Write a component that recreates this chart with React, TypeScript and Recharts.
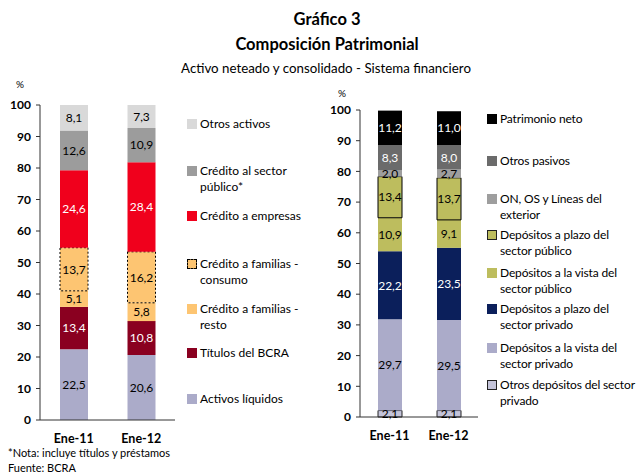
import React from "react";
import { BarChart, Bar, XAxis, YAxis, LabelList } from "recharts";

const categories = ["Ene-11", "Ene-12"];
const yTicks = [0, 10, 20, 30, 40, 50, 60, 70, 80, 90, 100];

// Activo (left)
const activosLiquidos = [22.5, 20.6];
const titulosBCRA = [13.4, 10.8];
const familiasResto = [5.1, 5.8];
const familiasConsumo = [13.7, 16.2];
const creditoEmpresas = [24.6, 28.4];
const creditoPublico = [12.6, 10.9];
const otrosActivos = [8.1, 7.3];

// Pasivo + PN (right)
const otrosDepPriv = [2.1, 2.1];
const vistaPriv = [29.7, 29.5];
const plazoPriv = [22.2, 23.5];
const vistaPub = [10.9, 9.1];
const plazoPub = [13.4, 13.7];
const onOs = [2.0, 2.7];
const otrosPasivos = [8.3, 8.0];
const patrimonioNeto = [11.2, 11.0];

const FONT = "Lato, 'Open Sans', sans-serif";

const leftData = categories.map((c, i) => ({
  name: c,
  liq: activosLiquidos[i],
  bcra: titulosBCRA[i],
  resto: familiasResto[i],
  consumo: familiasConsumo[i],
  emp: creditoEmpresas[i],
  pub: creditoPublico[i],
  otros: otrosActivos[i],
}));

const rightData = categories.map((c, i) => ({
  name: c,
  odp: otrosDepPriv[i],
  vpr: vistaPriv[i],
  ppr: plazoPriv[i],
  vpu: vistaPub[i],
  ppu: plazoPub[i],
  on: onOs[i],
  op: otrosPasivos[i],
  pn: patrimonioNeto[i],
}));

const fmt = (v: any) => Number(v).toFixed(1).replace(".", ",");

type S = { key: string; color: string; text: string; stroke?: string; dash?: string };

const leftSeries: S[] = [
  { key: "liq", color: "#ABABC9", text: "#000" },
  { key: "bcra", color: "#8A0020", text: "#fff" },
  { key: "resto", color: "#FDC572", text: "#000" },
  { key: "consumo", color: "#FDC572", text: "#000", stroke: "#000", dash: "2 2" },
  { key: "emp", color: "#F0001C", text: "#fff" },
  { key: "pub", color: "#9C9C9C", text: "#000" },
  { key: "otros", color: "#D9D9D9", text: "#000" },
];

const rightSeries: S[] = [
  { key: "odp", color: "#C4C4DA", text: "#000", stroke: "#222" },
  { key: "vpr", color: "#ABABC9", text: "#000" },
  { key: "ppr", color: "#0B1F5B", text: "#fff" },
  { key: "vpu", color: "#BDBD5E", text: "#000" },
  { key: "ppu", color: "#BDBD5E", text: "#000", stroke: "#000" },
  { key: "on", color: "#9E9E9E", text: "#000" },
  { key: "op", color: "#6B6B6B", text: "#fff" },
  { key: "pn", color: "#000000", text: "#fff" },
];

const tickStyle = { fontSize: 12, fontWeight: 700, fill: "#000", fontFamily: FONT };

function renderBars(series: S[], size: number) {
  return series.map((s) => (
    <Bar
      key={s.key}
      dataKey={s.key}
      stackId="a"
      fill={s.color}
      stroke={s.stroke || "none"}
      strokeWidth={s.stroke ? 1 : 0}
      strokeDasharray={s.dash}
      barSize={size}
      isAnimationActive={false}
    >
      <LabelList
        dataKey={s.key}
        position="center"
        formatter={fmt}
        style={{ fill: s.text, fontSize: 12, fontFamily: FONT }}
      />
    </Bar>
  ));
}

type LegendItem = { label: string[]; color: string; y: number; border?: string; dash?: boolean };

const leftLegend: LegendItem[] = [
  { label: ["Otros activos"], color: "#D9D9D9", y: 124 },
  { label: ["Crédito al sector", "público*"], color: "#9C9C9C", y: 171 },
  { label: ["Crédito a empresas"], color: "#F0001C", y: 216 },
  { label: ["Crédito a familias -", "consumo"], color: "#FDC572", y: 264, border: "#000", dash: true },
  { label: ["Crédito a familias -", "resto"], color: "#FDC572", y: 309 },
  { label: ["Títulos del BCRA"], color: "#8A0020", y: 353 },
  { label: ["Activos líquidos"], color: "#ABABC9", y: 399 },
];

const rightLegend: LegendItem[] = [
  { label: ["Patrimonio neto"], color: "#000000", y: 119 },
  { label: ["Otros pasivos"], color: "#6B6B6B", y: 161 },
  { label: ["ON, OS y Líneas del", "exterior"], color: "#9E9E9E", y: 199 },
  { label: ["Depósitos a plazo del", "sector público"], color: "#BDBD5E", y: 235, border: "#222" },
  { label: ["Depósitos a la vista del", "sector público"], color: "#BDBD5E", y: 273 },
  { label: ["Depósitos a plazo del", "sector privado"], color: "#0B1F5B", y: 309 },
  { label: ["Depósitos a la vista del", "sector privado"], color: "#ABABC9", y: 348 },
  { label: ["Otros depósitos del sector", "privado"], color: "#C4C4DA", y: 385, border: "#222" },
];

function Legend({ items, x, spacing }: { items: LegendItem[]; x: number; spacing?: number }) {
  return (
    <>
      {items.map((it, i) => (
        <div key={i} style={{ position: "absolute", left: x, top: it.y - 8, fontFamily: FONT, fontSize: 12, lineHeight: "15.5px", color: "#000", whiteSpace: "nowrap", letterSpacing: spacing || 0 }}>
          <div
            style={{
              position: "absolute",
              left: 0,
              top: 3,
              width: 10,
              height: 10,
              boxSizing: "border-box",
              background: it.color,
              border: it.border ? `1px ${it.dash ? "dashed" : "solid"} ${it.border}` : "none",
            }}
          />
          <div style={{ marginLeft: 13 }}>
            {it.label.map((l, j) => (
              <div key={j}>{l}</div>
            ))}
          </div>
        </div>
      ))}
    </>
  );
}

export default function App() {
  return (
    <div style={{ position: "absolute", left: 0, top: 0, width: 640, height: 475, background: "#fff", fontFamily: FONT, overflow: "hidden" }}>
      <div style={{ position: "absolute", left: 0, width: 654, top: 9, textAlign: "center", fontWeight: 700, fontSize: 16.5 }}>Gráfico 3</div>
      <div style={{ position: "absolute", left: 0, width: 654, top: 34, textAlign: "center", fontWeight: 700, fontSize: 16.5 }}>Composición Patrimonial</div>
      <div style={{ position: "absolute", left: 0, width: 652, top: 60, textAlign: "center", fontSize: 13.3 }}>Activo neteado y consolidado - Sistema financiero</div>
      <div style={{ position: "absolute", left: 16, top: 78, fontSize: 10 }}>%</div>
      <div style={{ position: "absolute", left: 338, top: 87, fontSize: 10 }}>%</div>

      <div style={{ position: "absolute", left: 0, top: 95 }}>
        <BarChart width={180} height={355} data={leftData} margin={{ top: 10, right: 5, bottom: 0, left: 0 }}>
          <XAxis dataKey="name" tickLine={false} axisLine={{ stroke: "#333" }} tick={{ ...tickStyle, fontSize: 12.5 }} tickMargin={8} height={30} />
          <YAxis domain={[0, 100]} ticks={yTicks} interval={0} width={40} tick={tickStyle} tickLine={{ stroke: "#333" }} axisLine={{ stroke: "#333" }} tickSize={4} tickMargin={5} />
          {renderBars(leftSeries, 28)}
        </BarChart>
      </div>

      <div style={{ position: "absolute", left: 320, top: 100 }}>
        <BarChart width={163} height={347} data={rightData} margin={{ top: 10, right: 5, bottom: 0, left: 0 }}>
          <XAxis dataKey="name" tickLine={false} axisLine={{ stroke: "#333" }} tick={{ ...tickStyle, fontSize: 12.5 }} tickMargin={8} height={30} />
          <YAxis domain={[0, 100]} ticks={yTicks} interval={0} width={40} tick={tickStyle} tickLine={{ stroke: "#333" }} axisLine={{ stroke: "#333" }} tickSize={4} tickMargin={5} />
          {renderBars(rightSeries, 24)}
        </BarChart>
      </div>

      <Legend items={leftLegend} x={187} />
      <Legend items={rightLegend} x={487} spacing={-0.15} />

      <div style={{ position: "absolute", left: 8, top: 446, fontSize: 11 }}>*Nota: incluye títulos y préstamos</div>
      <div style={{ position: "absolute", left: 8, top: 461, fontSize: 11 }}>Fuente: BCRA</div>
    </div>
  );
}
